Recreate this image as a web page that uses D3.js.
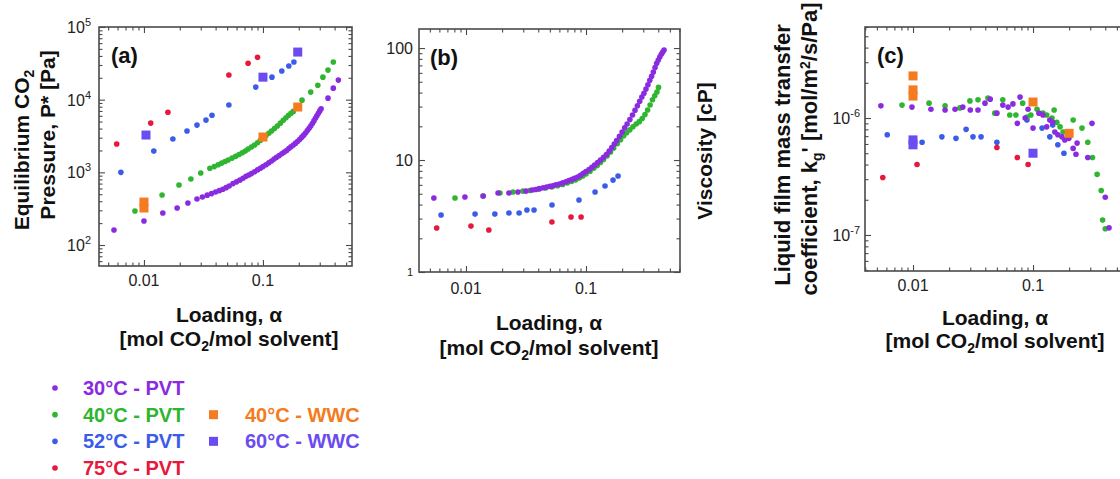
<!DOCTYPE html>
<html><head><meta charset="utf-8">
<script src="https://cdn.jsdelivr.net/npm/d3@7"></script>
<style>
body{margin:0;background:#fff}
text{font-family:"Liberation Sans",Arial,Helvetica,sans-serif}
</style>
</head><body>
<svg id="chart" width="1120" height="479"></svg>
<script>
// ---------------- DATA ([loading alpha, value]) ----------------
// Panel (a): equilibrium CO2 pressure [Pa]
const pvt30_a = [[0.0056,161],[0.0100,214],[0.0144,275],[0.0190,323],[0.0234,378],[0.0279,430],[0.031,457],[0.034,485],[0.037,510],[0.040,535],[0.043,560],[0.046,585],[0.049,615],[0.052,650],[0.056,700],[0.060,740],[0.064,780],[0.068,830],[0.072,880],[0.076,920],[0.080,960],[0.085,1020],[0.090,1080],[0.095,1140],[0.100,1200],[0.106,1270],[0.112,1350],[0.118,1430],[0.124,1520],[0.130,1610],[0.137,1700],[0.144,1800],[0.151,1900],[0.158,2000],[0.165,2120],[0.172,2250],[0.180,2380],[0.188,2520],[0.196,2680],[0.204,2850],[0.212,3050],[0.220,3250],[0.228,3480],[0.236,3750],[0.244,4050],[0.252,4350],[0.260,4700],[0.268,5100],[0.276,5550],[0.284,6000],[0.292,6500],[0.300,7000],[0.308,7500],[0.352,10500],[0.39,14400],[0.43,18600]];
const pvt40_a = [[0.0084,293],[0.0142,487],[0.0197,668],[0.0248,809],[0.030,977],[0.0358,1140],[0.039,1200],[0.042,1270],[0.045,1340],[0.048,1410],[0.051,1480],[0.055,1570],[0.059,1660],[0.063,1760],[0.067,1860],[0.071,1960],[0.075,2090],[0.080,2230],[0.085,2380],[0.090,2550],[0.095,2750],[0.100,2950],[0.106,3200],[0.112,3450],[0.118,3700],[0.125,4000],[0.132,4350],[0.140,4750],[0.148,5200],[0.156,5650],[0.164,6100],[0.172,6500],[0.180,6900],[0.213,9850],[0.252,12700],[0.289,15800],[0.319,20400],[0.352,25500],[0.39,33000]];
const pvt52_a = [[0.0064,1000],[0.0121,1960],[0.0175,2870],[0.0230,3700],[0.0279,4470],[0.0332,5230],[0.0373,6100],[0.0517,8430],[0.087,14900],[0.119,20400],[0.144,24800],[0.165,29000],[0.182,33000]];
const pvt75_a = [[0.0059,2450],[0.0114,4760],[0.0159,6700],[0.0517,21800],[0.075,31700],[0.090,38400]];
const wwc40_a = [[0.01,390],[0.01,323],[0.1,3060],[0.196,7920]];
const wwc60_a = [[0.0104,3260],[0.1,20400],[0.196,45200]];

// Panel (b): viscosity [cP]
const pvt30_b = [[0.0054,4.58],[0.0098,4.67],[0.0139,4.77],[0.0185,5.07],[0.0228,5.07],[0.0271,5.18],[0.0316,5.28],[0.0355,5.4],[0.038,5.45],[0.041,5.55],[0.044,5.65],[0.047,5.75],[0.050,5.82],[0.053,5.9],[0.056,6.0],[0.060,6.1],[0.064,6.25],[0.068,6.4],[0.072,6.55],[0.076,6.7],[0.080,6.85],[0.085,7.05],[0.090,7.3],[0.095,7.6],[0.100,7.9],[0.106,8.2],[0.112,8.6],[0.118,9.0],[0.125,9.5],[0.132,10.0],[0.140,10.6],[0.148,11.2],[0.156,12.0],[0.164,12.9],[0.172,13.9],[0.180,14.9],[0.190,16.3],[0.200,17.8],[0.210,19.4],[0.220,21.0],[0.232,23.0],[0.244,25.2],[0.256,27.8],[0.268,30.5],[0.280,33.5],[0.292,36.5],[0.304,39.5],[0.316,43],[0.328,47],[0.340,51.5],[0.352,56],[0.364,61],[0.376,67],[0.388,73],[0.400,78],[0.412,83],[0.424,88],[0.436,92],[0.447,96]];
const pvt40_b = [[0.0081,4.58],[0.0139,4.77],[0.0192,5.07],[0.0246,5.18],[0.0298,5.28],[0.034,5.35],[0.040,5.5],[0.046,5.62],[0.052,5.75],[0.058,5.9],[0.064,6.05],[0.070,6.25],[0.076,6.45],[0.082,6.65],[0.088,6.9],[0.094,7.2],[0.100,7.5],[0.108,7.95],[0.116,8.45],[0.124,8.95],[0.132,9.5],[0.140,10.1],[0.150,10.9],[0.160,11.8],[0.170,12.8],[0.182,14.0],[0.194,15.2],[0.206,16.5],[0.218,17.5],[0.232,18.6],[0.246,19.8],[0.262,21],[0.278,22],[0.294,23.5],[0.310,25.5],[0.326,28],[0.342,31],[0.358,34.5],[0.374,37.5],[0.390,40.5],[0.402,44.5]];
const pvt52_b = [[0.0062,3.23],[0.0119,3.29],[0.0174,3.29],[0.0228,3.36],[0.0277,3.36],[0.0322,3.58],[0.0369,3.58],[0.0521,3.97],[0.0874,4.4],[0.119,5.18],[0.144,5.86],[0.168,6.62],[0.185,7.19]];
const pvt75_b = [[0.0057,2.47],[0.011,2.57],[0.0155,2.37],[0.052,2.8],[0.075,3.1],[0.091,3.1]];

// Panel (c): liquid film mass transfer coefficient [mol/m2/s/Pa]
const pvt30_c = [[0.0054,1.27e-6],[0.0098,1.24e-6],[0.0141,1.19e-6],[0.0185,1.17e-6],[0.0224,1.19e-6],[0.026,1.24e-6],[0.030,1.17e-6],[0.0348,1.17e-6],[0.0398,1.34e-6],[0.044,1.45e-6],[0.050,1.1e-6],[0.056,1.29e-6],[0.062,1.24e-6],[0.068,1.32e-6],[0.074,0.9e-6],[0.078,1.51e-6],[0.086,1.0e-6],[0.091,1.19e-6],[0.1,0.82e-6],[0.112,1.1e-6],[0.121,1.06e-6],[0.13,0.84e-6],[0.138,0.96e-6],[0.146,0.92e-6],[0.152,0.76e-6],[0.161,0.72e-6],[0.174,0.69e-6],[0.184,0.65e-6],[0.199,0.67e-6],[0.216,0.55e-6],[0.233,0.61e-6],[0.228,0.49e-6],[0.286,0.46e-6],[0.31,0.9e-6],[0.40,0.21e-6],[0.43,0.115e-6]];
const pvt40_c = [[0.0081,1.29e-6],[0.0136,1.34e-6],[0.0185,1.27e-6],[0.0246,1.22e-6],[0.0298,1.4e-6],[0.0348,1.43e-6],[0.0421,1.48e-6],[0.048,1.1e-6],[0.056,1.43e-6],[0.064,1.06e-6],[0.072,1.06e-6],[0.082,1.34e-6],[0.089,1.02e-6],[0.096,1.06e-6],[0.108,1.19e-6],[0.121,1.1e-6],[0.13,1.06e-6],[0.144,1.0e-6],[0.15,1.17e-6],[0.158,0.92e-6],[0.168,0.84e-6],[0.178,0.76e-6],[0.195,0.74e-6],[0.216,0.96e-6],[0.256,0.82e-6],[0.286,0.62e-6],[0.313,0.46e-6],[0.342,0.33e-6],[0.37,0.24e-6],[0.38,0.134e-6],[0.40,0.113e-6]];
const pvt52_c = [[0.0061,0.72e-6],[0.0119,0.62e-6],[0.0174,0.69e-6],[0.0228,0.67e-6],[0.0277,0.8e-6],[0.0316,0.69e-6],[0.0369,0.69e-6],[0.050,0.62e-6],[0.089,0.96e-6],[0.119,0.82e-6],[0.138,0.69e-6],[0.161,0.59e-6],[0.181,0.50e-6],[0.146,0.87e-6]];
const pvt75_c = [[0.0056,0.31e-6],[0.0108,0.40e-6],[0.050,0.56e-6],[0.074,0.46e-6],[0.091,0.40e-6]];
const wwc40_c = [[0.01,2.29e-6],[0.01,1.74e-6],[0.01,1.54e-6],[0.1,1.37e-6],[0.2,0.74e-6]];
const wwc60_c = [[0.01,0.65e-6],[0.01,0.59e-6],[0.1,0.50e-6]];

// Tick labels
const xTickValues = [0.01, 0.1];
const xTickLabels = ["0.01", "0.1"];
const yTicksA = [1e2, 1e3, 1e4, 1e5];
const yExpA = ["2", "3", "4", "5"];
const yTicksB = [1, 10, 100];
const yLabelsB = ["1", "10", "100"];
const yTicksC = [1e-7, 1e-6];
const yExpC = ["-7", "-6"];

// Legend
const legendPVT = ["30°C - PVT", "40°C - PVT", "52°C - PVT", "75°C - PVT"];
const legendWWC = ["40°C - WWC", "60°C - WWC"];

// ---------------- STYLE ----------------
const C = {p30:"#8a2be2", p40:"#2fb52f", p52:"#3a5ce8", p75:"#e8173c", w40:"#f47b20", w60:"#6a4cf0"};
const AX = "#4a4a4a";

const svg = d3.select("#chart");

function logVals(dom){
  const out=[]; const lo=Math.floor(Math.log10(dom[0])), hi=Math.ceil(Math.log10(dom[1]));
  for(let k=lo;k<=hi;k++) for(let j=1;j<=9;j++){
    const v=+(j*Math.pow(10,k)).toPrecision(6);
    if(v>=dom[0]*0.9999 && v<=dom[1]*1.0001) out.push(v);
  }
  return out;
}

function panel(cfg){
  const x=d3.scaleLog().domain(cfg.xd).range([cfg.x0,cfg.x1]);
  const y=d3.scaleLog().domain(cfg.yd).range([cfg.y1,cfg.y0]);
  const g=svg.append("g");
  const xAll=logVals(cfg.xd), yAll=logVals(cfg.yd);
  const isMaj=v=>Math.abs(Math.log10(v)-Math.round(Math.log10(v)))<1e-6;
  const xMaj=xAll.filter(isMaj), xMin=xAll.filter(v=>!isMaj(v));
  const yMaj=yAll.filter(isMaj), yMin=yAll.filter(v=>!isMaj(v));
  const defs=[
    [d3.axisBottom(x),`translate(0,${cfg.y1})`,xMaj,xMin],
    [d3.axisTop(x),`translate(0,${cfg.y0})`,xMaj,xMin],
    [d3.axisLeft(y),`translate(${cfg.x0},0)`,yMaj,yMin],
    [d3.axisRight(y),`translate(${cfg.x1},0)`,yMaj,yMin]
  ];
  defs.forEach(([ax,tr,maj,mn])=>{
    const a1=g.append("g").attr("transform",tr).call(ax.tickValues(maj).tickSize(-6).tickFormat(""));
    const a2=g.append("g").attr("transform",tr).call(ax.tickValues(mn).tickSize(-3.5).tickFormat(""));
    [a1,a2].forEach(a=>{a.select(".domain").remove();a.selectAll("line").attr("stroke",AX).attr("stroke-width",1.1);});
  });
  g.append("rect").attr("x",cfg.x0).attr("y",cfg.y0).attr("width",cfg.x1-cfg.x0).attr("height",cfg.y1-cfg.y0)
    .attr("fill","none").attr("stroke",AX).attr("stroke-width",1.6);
  // x tick labels
  g.selectAll(".xl").data(xTickValues).enter().append("text")
    .attr("x",d=>x(d)).attr("y",cfg.y1+cfg.xlab).attr("text-anchor","middle")
    .attr("font-size",16).attr("fill","#222").text((d,i)=>xTickLabels[i]);
  // data
  const dots=(data,col)=>g.append("g").selectAll("circle").data(data).enter().append("circle")
    .attr("cx",d=>x(d[0])).attr("cy",d=>y(d[1])).attr("r",2.8).attr("fill",col);
  const squares=(data,col)=>g.append("g").selectAll("rect").data(data).enter().append("rect")
    .attr("x",d=>x(d[0])-4.5).attr("y",d=>y(d[1])-4.5).attr("width",9).attr("height",9).attr("fill",col);
  cfg.series.forEach(s=>{ if(s.sq) squares(s.d,s.c); else dots(s.d,s.c); });
  return {x,y,g};
}

// Panel (a)
const A = panel({x0:99,x1:352,y0:27,y1:266,xd:[0.00419,0.56],yd:[51.4,1e5],xlab:20,
  series:[{d:pvt75_a,c:C.p75},{d:pvt52_a,c:C.p52},{d:pvt40_a,c:C.p40},{d:pvt30_a,c:C.p30},
          {d:wwc40_a,c:C.w40,sq:true},{d:wwc60_a,c:C.w60,sq:true}]});
yTicksA.forEach((v,i)=>{
  const t=A.g.append("text").attr("x",91).attr("y",A.y(v)+6).attr("text-anchor","end").attr("font-size",16).attr("fill","#222");
  t.append("tspan").text("10");
  t.append("tspan").attr("dy",-7).attr("font-size",11).text(yExpA[i]);
});

// Panel (b)
const B = panel({x0:419,x1:680,y0:29,y1:272,xd:[0.00406,0.607],yd:[1,147.9],xlab:22,
  series:[{d:pvt75_b,c:C.p75},{d:pvt52_b,c:C.p52},{d:pvt40_b,c:C.p40},{d:pvt30_b,c:C.p30}]});
yTicksB.forEach((v,i)=>{
  B.g.append("text").attr("x",413).attr("y",B.y(v)+(i===0?4:6)).attr("text-anchor","end")
   .attr("font-size",i===0?11:16).attr("fill","#222").text(yLabelsB[i]);
});

// Panel (c)
const Cp = panel({x0:865,x1:1127,y0:27,y1:271,xd:[0.00398,0.607],yd:[4.92e-8,6.0e-6],xlab:20,
  series:[{d:pvt75_c,c:C.p75},{d:pvt52_c,c:C.p52},{d:pvt40_c,c:C.p40},{d:pvt30_c,c:C.p30},
          {d:wwc40_c,c:C.w40,sq:true},{d:wwc60_c,c:C.w60,sq:true}]});
yTicksC.forEach((v,i)=>{
  const t=Cp.g.append("text").attr("x",860).attr("y",Cp.y(v)+6).attr("text-anchor","end").attr("font-size",16).attr("fill","#222");
  t.append("tspan").text("10");
  t.append("tspan").attr("dy",-7).attr("font-size",11).text(yExpC[i]);
});

// Panel letters
[["(a)",111,63],["(b)",430,65],["(c)",877,63]].forEach(([s,x,y])=>
  svg.append("text").attr("x",x).attr("y",y).attr("font-size",22).attr("font-weight","bold").attr("fill","#111").text(s));

// X titles
function xTitle(cx,y1,y2){
  svg.append("text").attr("x",cx).attr("y",y1).attr("text-anchor","middle").attr("font-size",21).attr("font-weight","bold").attr("fill","#111").text("Loading, α");
  const t=svg.append("text").attr("x",cx).attr("y",y2).attr("text-anchor","middle").attr("font-size",21).attr("font-weight","bold").attr("fill","#111");
  t.append("tspan").text("[mol CO");
  t.append("tspan").attr("dy",5).attr("font-size",14).text("2");
  t.append("tspan").attr("dy",-5).text("/mol solvent]");
}
xTitle(229,322,346);
xTitle(549,330,355);
xTitle(995,325,348);

// Y titles
function rotText(x,y,size){
  return svg.append("text").attr("transform",`translate(${x},${y}) rotate(-90)`).attr("text-anchor","middle")
    .attr("font-size",size).attr("font-weight","bold").attr("fill","#111");
}
let t=rotText(29,150,21); t.append("tspan").text("Equilibrium CO"); t.append("tspan").attr("dy",5).attr("font-size",14).text("2");
rotText(55,135,21).text("Pressure, P* [Pa]");
rotText(712,151,21).text("Viscosity [cP]");
rotText(790,155,22).text("Liquid film mass transfer");
t=rotText(817,149,22);
t.append("tspan").text("coefficient, k");
t.append("tspan").attr("dy",5).attr("font-size",14).text("g");
t.append("tspan").attr("dy",-5).text("' [mol/m");
t.append("tspan").attr("dy",-7).attr("font-size",14).text("2");
t.append("tspan").attr("dy",7).text("/s/Pa]");

// Legend
const lg=svg.append("g");
const pvtCols=[C.p30,C.p40,C.p52,C.p75];
const rowY=d3.scalePoint().domain(d3.range(4)).range([388,468]);
legendPVT.forEach((s,i)=>{
  lg.append("circle").attr("cx",55).attr("cy",rowY(i)).attr("r",2.8).attr("fill",pvtCols[i]);
  lg.append("text").attr("x",83).attr("y",rowY(i)+7).attr("font-size",20).attr("font-weight","bold").attr("fill",pvtCols[i]).text(s);
});
const wwcCols=[C.w40,C.w60];
legendWWC.forEach((s,i)=>{
  lg.append("rect").attr("x",209).attr("y",rowY(i+1)-4.5).attr("width",9).attr("height",9).attr("fill",wwcCols[i]);
  lg.append("text").attr("x",245).attr("y",rowY(i+1)+7).attr("font-size",20).attr("font-weight","bold").attr("fill",wwcCols[i]).text(s);
});
</script>
</body></html>
